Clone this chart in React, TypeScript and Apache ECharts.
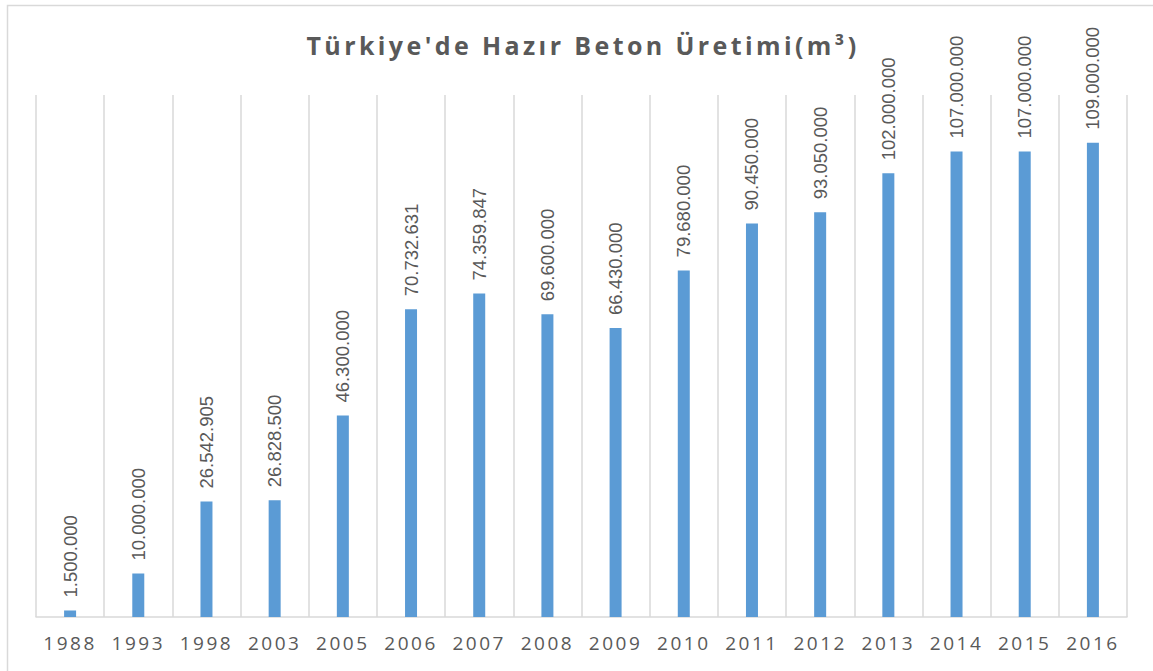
import React, { useEffect, useRef } from "react";
import * as echarts from "echarts";

const categories = ["1988", "1993", "1998", "2003", "2005", "2006", "2007", "2008", "2009", "2010", "2011", "2012", "2013", "2014", "2015", "2016"];
const production = [1500000, 10000000, 26542905, 26828500, 46300000, 70732631, 74359847, 69600000, 66430000, 79680000, 90450000, 93050000, 102000000, 107000000, 107000000, 109000000];
const titleText = "Türkiye'de Hazır Beton Üretimi(m³)";

const fmt = (v: number) => String(Math.round(v)).replace(/\B(?=(\d{3})+(?!\d))/g, ".");

const css = `
#bchart svg text[style*="25px"] { letter-spacing: 3.4px; }
#bchart svg text[style*="19px"] { letter-spacing: 2.5px; }
`;

export default function App() {
  const ref = useRef<HTMLDivElement>(null);
  useEffect(() => {
    const chart = echarts.init(ref.current!, null, { renderer: "svg" });
    chart.setOption({
      animation: false,
      backgroundColor: "#ffffff",
      title: {
        text: titleText,
        left: 578,
        textAlign: "center",
        top: 27,
        textStyle: {
          fontFamily: "Open Sans",
          fontWeight: "bold",
          fontSize: 25,
          color: "#595959",
        },
      },
      graphic: [
        {
          type: "rect",
          shape: { x: 7.5, y: 5.5, width: 1160, height: 680 },
          style: { fill: "none", stroke: "#d9d9d9", lineWidth: 1.5 },
          silent: true,
        },
      ],
      grid: { left: 36, right: 26, top: 95, bottom: 54 },
      xAxis: {
        type: "category",
        data: categories,
        boundaryGap: true,
        axisLine: { show: true, lineStyle: { color: "#d9d9d9", width: 1.5 } },
        axisTick: { show: false },
        splitLine: { show: true, lineStyle: { color: "#d9d9d9", width: 1.5 } },
        axisLabel: {
          margin: 16,
          fontFamily: "Open Sans",
          fontSize: 19,
          color: "#595959",
        },
      },
      yAxis: {
        type: "value",
        min: 0,
        max: 120000000,
        show: false,
        splitLine: { show: false },
      },
      series: [
        {
          type: "bar",
          data: production,
          barWidth: 12,
          itemStyle: { color: "#5b9bd5" },
          label: {
            show: true,
            position: "top",
            rotate: 90,
            align: "left",
            verticalAlign: "middle",
            distance: 13,
            formatter: (p: any) => fmt(p.value),
            fontFamily: "Liberation Sans",
            fontSize: 18.5,
            color: "#595959",
          },
        },
      ],
    });
    return () => chart.dispose();
  }, []);
  return (
    <>
      <style>{css}</style>
      <div
        id="bchart"
        ref={ref}
        style={{ position: "absolute", left: 0, top: 0, width: 1153, height: 671 }}
      />
    </>
  );
}
